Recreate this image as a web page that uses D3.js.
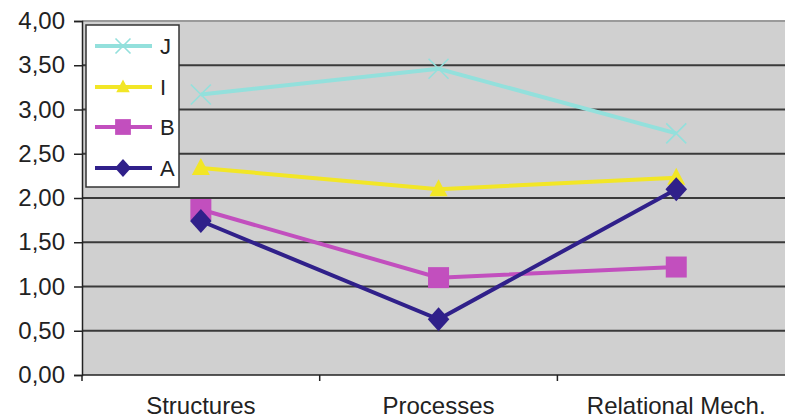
<!DOCTYPE html>
<html><head><meta charset="utf-8">
<script src="https://cdn.jsdelivr.net/npm/d3@7/dist/d3.min.js"></script>
<style>body{margin:0;background:#fff}svg{display:block}</style>
</head><body>
<svg id="c" width="785" height="419"></svg>
<script>
const categories = ["Structures", "Processes", "Relational Mech."];
const seriesNames = ["J", "I", "B", "A"];
const valuesJ = [3.17, 3.46, 2.73];
const valuesI = [2.34, 2.10, 2.23];
const valuesB = [1.87, 1.10, 1.22];
const valuesA = [1.74, 0.63, 2.10];
const yTicks = [0, 0.5, 1, 1.5, 2, 2.5, 3, 3.5, 4];

const series = [
  {name: "J", values: valuesJ, color: "#93e0dc", marker: "x"},
  {name: "I", values: valuesI, color: "#f2e626", marker: "tri"},
  {name: "B", values: valuesB, color: "#c24fbe", marker: "sq"},
  {name: "A", values: valuesA, color: "#30208a", marker: "dia"}
];

const FONT = "Liberation Sans, Arial, sans-serif";
const svg = d3.select("#c");
const L = 82, T = 21, B = 375;
const x = d3.scaleBand().domain(categories).range([L, L + 237.7 * 3]);
const y = d3.scaleLinear().domain([0, 4]).range([B, T]);

svg.append("rect").attr("x", L).attr("y", T).attr("width", 785 - L).attr("height", B - T).attr("fill", "#d0d0d0");
svg.append("line").attr("x1", L).attr("x2", 785).attr("y1", T).attr("y2", T).attr("stroke", "#9a9a9a").attr("stroke-width", 2);

// gridlines
svg.append("g").selectAll("line").data(yTicks.filter(d => d > 0 && d < 4)).join("line")
  .attr("x1", L).attr("x2", 785).attr("y1", d => y(d)).attr("y2", d => y(d))
  .attr("stroke", "#3a3a3a").attr("stroke-width", 1.8);

// y axis
const yAxis = d3.axisLeft(y).tickValues(yTicks).tickSize(8).tickPadding(9)
  .tickFormat(d => d3.format(".2f")(d).replace(".", ","));
const gy = svg.append("g").attr("transform", `translate(${L},0)`).call(yAxis);
gy.select(".domain").attr("stroke", "#222").attr("stroke-width", 1.5);
gy.selectAll(".tick line").attr("stroke", "#222").attr("stroke-width", 1.5);
gy.selectAll("text").attr("font-family", FONT).attr("font-size", 24).attr("fill", "#222");

// x axis
const gx = svg.append("g").attr("transform", `translate(0,${B})`);
gx.append("line").attr("x1", L).attr("x2", 785).attr("stroke", "#222").attr("stroke-width", 1.5);
gx.selectAll("line.t").data(categories).join("line").attr("class", "t")
  .attr("x1", d => x(d)).attr("x2", d => x(d)).attr("y1", 0).attr("y2", 6)
  .attr("stroke", "#222").attr("stroke-width", 1.5);
gx.selectAll("text").data(categories).join("text")
  .attr("x", d => x(d) + x.bandwidth() / 2).attr("y", 39)
  .attr("text-anchor", "middle").attr("font-family", FONT)
  .attr("font-size", 24).attr("fill", "#222").text(d => d);

function drawMarker(g, type, color, cx, cy, k) {
  if (type === "x") {
    const s = 10 * k;
    g.append("path").attr("d", `M${cx - s},${cy - s}L${cx + s},${cy + s}M${cx - s},${cy + s}L${cx + s},${cy - s}`)
      .attr("stroke", color).attr("stroke-width", 1.6).attr("fill", "none");
  } else if (type === "tri") {
    g.append("path").attr("d", `M${cx},${cy - 10 * k}L${cx + 9 * k},${cy + 7 * k}L${cx - 9 * k},${cy + 7 * k}Z`).attr("fill", color);
  } else if (type === "sq") {
    const h = 10.5 * k;
    g.append("rect").attr("x", cx - h).attr("y", cy - h).attr("width", 2 * h).attr("height", 2 * h).attr("fill", color);
  } else {
    const h = 12 * k;
    g.append("path").attr("d", `M${cx},${cy - h}L${cx + h * 0.9},${cy}L${cx},${cy + h}L${cx - h * 0.9},${cy}Z`).attr("fill", color);
  }
}

const line = d3.line().x((d, i) => x(categories[i]) + x.bandwidth() / 2).y(d => y(d));
series.forEach(s => {
  const g = svg.append("g");
  g.append("path").datum(s.values).attr("d", line).attr("fill", "none")
    .attr("stroke", s.color).attr("stroke-width", 4);
  s.values.forEach((v, i) => drawMarker(g, s.marker, s.color, x(categories[i]) + x.bandwidth() / 2, y(v), 1));
});

// legend
const lg = svg.append("g");
lg.append("rect").attr("x", 86).attr("y", 25).attr("width", 93).attr("height", 162)
  .attr("fill", "#fff").attr("stroke", "#333").attr("stroke-width", 1.5);
const ly = [46, 87, 127, 168];
series.forEach((s, i) => {
  lg.append("line").attr("x1", 95).attr("x2", 152).attr("y1", ly[i]).attr("y2", ly[i])
    .attr("stroke", s.color).attr("stroke-width", 4);
  drawMarker(lg, s.marker, s.color, 123, ly[i], 0.75);
  lg.append("text").attr("x", 160).attr("y", ly[i] + 8).attr("font-family", FONT)
    .attr("font-size", 22).attr("fill", "#222").text(seriesNames[i]);
});
</script>
</body></html>
